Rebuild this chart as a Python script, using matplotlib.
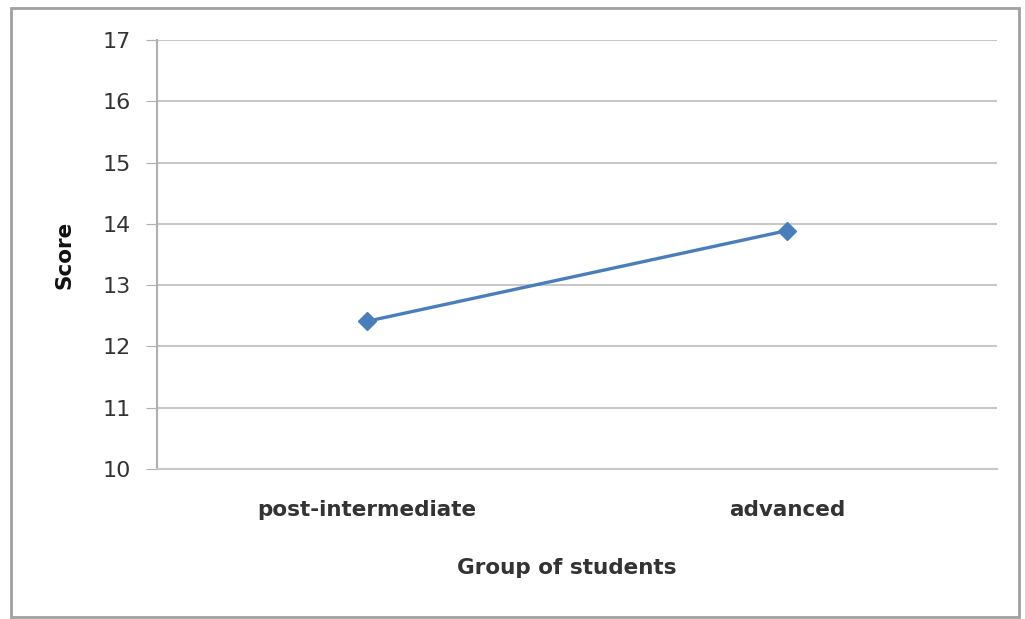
import matplotlib.pyplot as plt
from matplotlib.patches import Rectangle

groups = ['post-intermediate', 'advanced']
scores = [12.41, 13.89]
yticks = [10, 11, 12, 13, 14, 15, 16, 17]

W, H = 1025, 619
fig = plt.figure(figsize=[W / 100, H / 100], dpi=100)
ax = fig.add_axes([157 / W, 1 - 469 / H, 840 / W, 429 / H])

# outer chart border like excel
fig.patches.append(Rectangle((11 / W, 1 - 617 / H), 1008 / W, 609 / H,
                             transform=fig.transFigure, fill=False,
                             edgecolor='#a0a0a0', linewidth=2))

ax.plot(range(len(groups)), scores, color='#4a7ebb', linewidth=2.4,
        marker='D', markersize=9, zorder=3)

ax.set_xlim(-0.5, 1.5)
ax.set_ylim(10, 17)
ax.set_yticks(yticks)
ax.set_xticks(range(len(groups)))
ax.set_xticklabels(groups, fontsize=15.5, fontweight='bold', color='#333333')
ax.tick_params(axis='x', length=0, pad=22)
ax.tick_params(axis='y', length=8, color='#b0b0b0', labelsize=16,
               labelcolor='#333333', pad=11)
ax.grid(axis='y', color='#c8c8c8', linewidth=1.5)
ax.set_axisbelow(True)
for s in ['top', 'right']:
    ax.spines[s].set_visible(False)
ax.spines['left'].set_color('#b0b0b0')
ax.spines['bottom'].set_color('#c8c8c8')
ax.spines['left'].set_linewidth(1.5)
ax.spines['bottom'].set_linewidth(1.5)

ax.set_xlabel('Group of students', fontsize=15.5, fontweight='bold',
              color='#333333')
ax.xaxis.set_label_coords((567 - 157) / 840, -(568 - 469) / 429)
ax.xaxis.label.set_va('center')
ax.set_ylabel('Score', fontsize=15.5, fontweight='bold', color='#111111')
ax.yaxis.set_label_coords(-(157 - 65) / 840, (469 - 255) / 429)
ax.yaxis.label.set_va('center')

fig.savefig('out.png', dpi=100)
